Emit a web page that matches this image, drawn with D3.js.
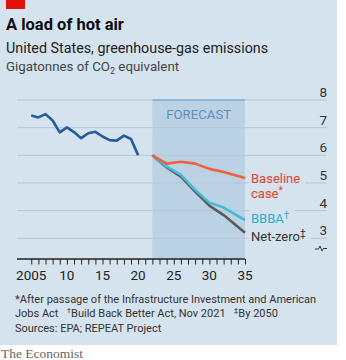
<!DOCTYPE html>
<head>
<meta charset="utf-8">
<title>A load of hot air</title>
<script src="https://cdn.jsdelivr.net/npm/d3@7"></script>
<style>
	body { margin: 0; background: #fff; }
	svg text { font-family: Roboto, "Noto Sans", sans-serif; white-space: pre; }
</style>
</head>

<body>
<script>
var width = 346;
var height = 360;

// historic emissions, gigatonnes CO2e
var histYears = [2005, 2006, 2007, 2008, 2009, 2010, 2011, 2012, 2013, 2014, 2015, 2016, 2017, 2018, 2019, 2020];
var histValues = [7.44, 7.37, 7.49, 7.26, 6.83, 7.01, 6.84, 6.62, 6.80, 6.85, 6.68, 6.55, 6.53, 6.71, 6.59, 6.00];

// projections
var fcYears = [2022, 2024, 2026, 2028, 2030, 2032, 2035];
var baseline = [6.00, 5.70, 5.77, 5.70, 5.51, 5.40, 5.18];
var bbba = [6.00, 5.59, 5.29, 4.75, 4.29, 4.11, 3.66];
var netZero = [6.00, 5.56, 5.23, 4.69, 4.18, 3.84, 3.20];

var yTicks = [3, 4, 5, 6, 7, 8];
var xTickLabels = ["2005", "10", "15", "20", "25", "30", "35"];
var xTickYears = [2005, 2010, 2015, 2020, 2025, 2030, 2035];

var bg = "#d5e3ee";

var svg = d3.select("body").append("svg")
	.attr("width", width)
	.attr("height", height);

svg.append("rect")
	.attr("x", 0).attr("y", 0)
	.attr("width", 337).attr("height", 345)
	.attr("fill", bg);

var x = d3.scaleLinear().domain([2003, 2035]).range([17, 245]);
var y = d3.scaleLinear().domain([3, 8]).range([238.3, 100]);

// header
svg.append("rect").attr("x", 6).attr("y", 0).attr("width", 19).attr("height", 9).attr("fill", "#e3120b");
svg.append("text").attr("x", 6).attr("y", 30)
	.style("font-size", "16.5px").style("font-weight", "bold").style("fill", "#0d0d0d")
	.text("A load of hot air");
svg.append("text").attr("x", 6).attr("y", 52.5)
	.style("font-size", "14.3px").style("fill", "#222")
	.text("United States, greenhouse-gas emissions");
var unit = svg.append("text").attr("x", 6).attr("y", 70.5)
	.style("font-size", "13.3px").style("fill", "#444");
unit.append("tspan").text("Gigatonnes of CO");
unit.append("tspan").attr("dy", 3).style("font-size", "9px").text("2");
unit.append("tspan").attr("dy", -3).text(" equivalent");

// forecast band
svg.append("rect")
	.attr("x", x(2022)).attr("y", y(8))
	.attr("width", x(2035) - x(2022)).attr("height", 259 - y(8))
	.attr("fill", "#bad2e3");
svg.append("line")
	.attr("x1", x(2022)).attr("x2", x(2035))
	.attr("y1", y(8)).attr("y2", y(8))
	.attr("stroke", "#79abd0").attr("stroke-width", 1.5);
svg.append("text")
	.attr("x", (x(2022) + x(2035)) / 2).attr("y", 119)
	.attr("text-anchor", "middle")
	.style("font-size", "13.2px").style("fill", "#5d8fb8")
	.text("FORECAST");

// gridlines
svg.append("g").selectAll("line").data(yTicks).enter().append("line")
	.filter(function(d) { return d != 8; })
	.attr("x1", 17).attr("x2", 327)
	.attr("y1", function(d) { return y(d); })
	.attr("y2", function(d) { return y(d); })
	.attr("stroke", "#b3c6d6").attr("stroke-width", 1);
svg.append("line")
	.attr("x1", 17).attr("x2", x(2022))
	.attr("y1", y(8)).attr("y2", y(8))
	.attr("stroke", "#b3c6d6");
svg.append("line")
	.attr("x1", x(2035)).attr("x2", 327)
	.attr("y1", y(8)).attr("y2", y(8))
	.attr("stroke", "#b3c6d6");

// y labels on the right
svg.append("g").selectAll("text").data(yTicks).enter().append("text")
	.attr("x", 327).attr("y", function(d) { return y(d) - 3; })
	.attr("text-anchor", "end")
	.style("font-size", "13.5px").style("fill", "#333")
	.text(function(d) { return d; });

// axis break
svg.append("path")
	.attr("d", "M315,249 h3.5 l1.5,-3 l2,5 l1.5,-2.5 h3.5")
	.attr("fill", "none").attr("stroke", "#333").attr("stroke-width", 1);

// x axis
var xAxis = d3.axisBottom(x)
	.tickValues(d3.range(2005, 2036))
	.tickSize(5.5)
	.tickFormat("");
var axisG = svg.append("g").attr("transform", "translate(0,259)").call(xAxis);
axisG.select(".domain").attr("d", "M17,0H245").attr("stroke", "#222").attr("stroke-width", 1.3);
axisG.selectAll(".tick line").attr("stroke", "#222");
svg.append("g").selectAll("text").data(xTickYears).enter().append("text")
	.attr("x", function(d) { return x(d); }).attr("y", 280)
	.attr("text-anchor", "middle")
	.style("font-size", "13.5px").style("fill", "#222")
	.text(function(d, i) { return xTickLabels[i]; });

// lines
var line = d3.line()
	.x(function(d) { return x(d[0]); })
	.y(function(d) { return y(d[1]); });

function drawSeries(years, vals, color) {
	svg.append("path")
		.datum(years.map(function(yr, i) { return [yr, vals[i]]; }))
		.attr("d", line)
		.attr("fill", "none")
		.attr("stroke", color)
		.attr("stroke-width", 2.6)
		.attr("stroke-linejoin", "round");
}
drawSeries(histYears, histValues, "#215d9b");
drawSeries(fcYears, netZero, "#5b5b5b");
drawSeries(fcYears, bbba, "#40bcd5");
drawSeries(fcYears, baseline, "#f0603e");

// series labels, masked against the gridlines
var labels = [
	{ lines: [["Baseline", ""], ["case", "*"]], ys: [182.5, 197.8], color: "#e3412e" },
	{ lines: [["BBBA", "†"]], ys: [222.7], color: "#2aaecb" },
	{ lines: [["Net-zero", "‡"]], ys: [241], color: "#333" }
];
labels.forEach(function(l) {
	var g = svg.append("g");
	var mask = g.append("rect").attr("fill", bg);
	var txt = g.append("g");
	l.lines.forEach(function(pair, i) {
		var t = txt.append("text").attr("x", 251).attr("y", l.ys[i])
			.style("font-size", "13px").style("fill", l.color);
		t.append("tspan").text(pair[0]);
		if (pair[1]) t.append("tspan").attr("dy", -4).style("font-size", "10px").text(pair[1]);
	});
	var b = txt.node().getBBox();
	mask.attr("x", b.x - 2).attr("y", b.y).attr("width", b.width + 7).attr("height", b.height);
});

// footnotes
var notes = svg.append("g").style("font-size", "11px").style("fill", "#333");
notes.append("text").attr("x", 15).attr("y", 302.5)
	.text("*After passage of the Infrastructure Investment and American");
var n2 = notes.append("text").attr("x", 15).attr("y", 316.5);
n2.append("tspan").text("Jobs Act   ");
n2.append("tspan").attr("dy", -3.5).style("font-size", "8px").text("†");
n2.append("tspan").attr("dy", 3.5).text("Build Back Better Act, Nov 2021   ");
n2.append("tspan").attr("dy", -3.5).style("font-size", "8px").text("‡");
n2.append("tspan").attr("dy", 3.5).text("By 2050");
notes.append("text").attr("x", 15).attr("y", 331.5)
	.text("Sources: EPA; REPEAT Project");

svg.append("text").attr("x", 1).attr("y", 357.5)
	.style("font-family", "'Liberation Serif', 'DejaVu Serif', serif")
	.style("font-size", "13.5px").style("fill", "#666")
	.text("The Economist");
</script>
</body>
